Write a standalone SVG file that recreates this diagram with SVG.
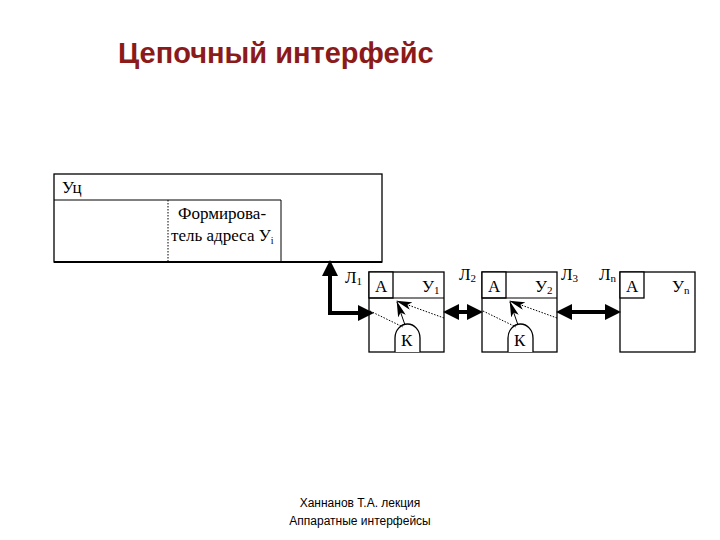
<svg xmlns="http://www.w3.org/2000/svg" width="720" height="540" viewBox="0 0 720 540">
<style>
.t{font-family:"Liberation Serif",serif;font-size:17px;fill:#000}
.b{fill:#fff;stroke:#000;stroke-width:1.3}
.d{stroke:#000;stroke-width:1;stroke-dasharray:1.5 1.5;fill:none}
.th{stroke:#000;stroke-width:4;fill:none}
</style>
<defs>
<marker id="ah" markerWidth="4" markerHeight="4" refX="2.5" refY="2" orient="auto-start-reverse"><path d="M0,0L4,2L0,4z" fill="#000"/></marker>
<marker id="sa" markerWidth="16" markerHeight="8" refX="15" refY="4" orient="auto" markerUnits="userSpaceOnUse"><path d="M0,0L16,4L0,8L4,4z" fill="#000"/></marker>
</defs>
<rect width="720" height="540" fill="#fff"/>
<text x="118" y="63" style="font-family:'Liberation Sans',sans-serif;font-size:29px;font-weight:bold;fill:#8b1a1a">Цепочный интерфейс</text>
<g id="uc">
<rect class="b" x="54" y="174" width="328" height="88"/>
<line x1="54" y1="200" x2="281" y2="200" stroke="#000" stroke-width="1"/>
<line x1="281" y1="200" x2="281" y2="262" stroke="#000" stroke-width="1"/>
<line x1="168" y1="200" x2="168" y2="262" class="d"/>
<line x1="54" y1="262" x2="382" y2="262" stroke="#000" stroke-width="2"/>
<text class="t" x="62" y="193">Уц</text>
<text class="t" x="178" y="219">Формирова-</text>
<text class="t" x="171" y="241">тель адреса У<tspan font-size="10" dy="3">i</tspan></text>
</g>
<g id="u1">
<rect class="b" x="369" y="272" width="75" height="80"/>
<rect class="b" x="369" y="272" width="24" height="26"/>
<line x1="369" y1="298" x2="444" y2="298" stroke="#000"/>
<path d="M395,352 V338 A12.5,14 0 0 1 420,338 V352" class="b"/>
<text class="t" x="375" y="292">А</text>
<text class="t" x="422" y="292">У<tspan font-size="11" dy="2">1</tspan></text>
<text class="t" x="401" y="346">К</text>
<line x1="370" y1="311" x2="403" y2="327" class="d"/>
<line x1="444" y1="318" x2="397" y2="301" class="d" marker-end="url(#sa)"/>
<line x1="405" y1="325" x2="397" y2="302" stroke="#000" marker-end="url(#sa)"/>
</g>
<g id="u2">
<rect class="b" x="482" y="272" width="75" height="80"/>
<rect class="b" x="482" y="272" width="24" height="26"/>
<line x1="482" y1="298" x2="557" y2="298" stroke="#000"/>
<path d="M508,352 V338 A12.5,14 0 0 1 533,338 V352" class="b"/>
<text class="t" x="488" y="292">А</text>
<text class="t" x="535" y="292">У<tspan font-size="11" dy="2">2</tspan></text>
<text class="t" x="514" y="346">К</text>
<line x1="483" y1="311" x2="516" y2="327" class="d"/>
<line x1="557" y1="318" x2="510" y2="301" class="d" marker-end="url(#sa)"/>
<line x1="518" y1="325" x2="510" y2="302" stroke="#000" marker-end="url(#sa)"/>
</g>
<g id="un">
<rect class="b" x="620" y="272" width="75" height="80"/>
<rect class="b" x="620" y="272" width="24" height="26"/>
<text class="t" x="626" y="292">А</text>
<text class="t" x="672" y="292">У<tspan font-size="11" dy="2">n</tspan></text>
</g>
<g id="connectors">
<polyline points="368,313 330,313 330,266" class="th" marker-start="url(#ah)" marker-end="url(#ah)"/>
<line x1="449" y1="312" x2="477" y2="312" class="th" marker-start="url(#ah)" marker-end="url(#ah)"/>
<line x1="562" y1="312" x2="615" y2="312" class="th" marker-start="url(#ah)" marker-end="url(#ah)"/>
<text class="t" x="345" y="283">Л<tspan font-size="11" dy="2">1</tspan></text>
<text class="t" x="459" y="280">Л<tspan font-size="11" dy="2">2</tspan></text>
<text class="t" x="561" y="280">Л<tspan font-size="11" dy="2">3</tspan></text>
<text class="t" x="599" y="280">Л<tspan font-size="11" dy="2">n</tspan></text>
</g>
<text x="360" y="507" text-anchor="middle" style="font-family:'Liberation Sans',sans-serif;font-size:12px">Ханнанов Т.А. лекция</text>
<text x="360" y="525" text-anchor="middle" style="font-family:'Liberation Sans',sans-serif;font-size:12px">Аппаратные интерфейсы</text>
</svg>
